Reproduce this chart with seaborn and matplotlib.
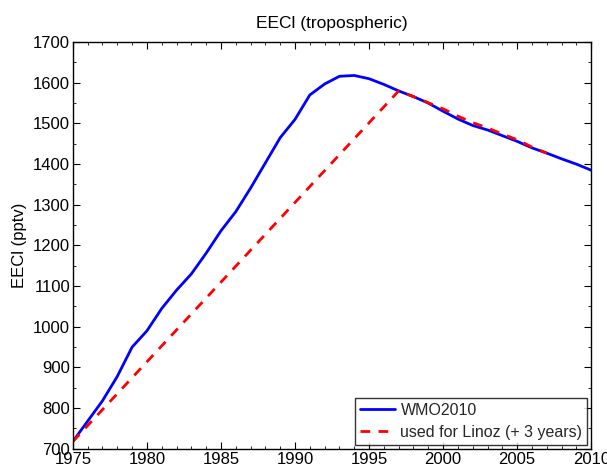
import numpy as np
import pandas as pd
import matplotlib
matplotlib.use("Agg")
import matplotlib.pyplot as plt
import seaborn as sns
from matplotlib.ticker import MultipleLocator

years_wmo = list(range(1975, 2011))
eecl_wmo = [718, 768, 818, 878, 950, 990, 1045, 1090, 1130, 1181,
            1236, 1283, 1341, 1403, 1465, 1510, 1570, 1597, 1616, 1618,
            1610, 1596, 1580, 1566, 1550, 1530, 1511, 1495, 1484, 1470,
            1456, 1440, 1427, 1413, 1400, 1385]

years_linoz = [1975, 1997, 1998, 1999, 2000, 2001, 2002, 2003, 2004, 2005, 2006, 2007]
eecl_linoz = [718, 1580, 1566, 1551, 1536, 1518, 1502, 1489, 1474, 1460, 1442, 1427]

label_wmo = "WMO2010"
label_linoz = "used for Linoz (+ 3 years)"

sns.set_theme(style="white")
plt.rcParams['font.family'] = ['Liberation Sans', 'DejaVu Sans']

fig = plt.figure(figsize=(6.07, 4.68), dpi=100)
ax = fig.add_axes([0.120, 0.041, 0.854, 0.869])

df_w = pd.DataFrame({"year": years_wmo, "eecl": eecl_wmo})
df_l = pd.DataFrame({"year": years_linoz, "eecl": eecl_linoz})
sns.lineplot(data=df_w, x="year", y="eecl", ax=ax, color="#0000ff", lw=2, label=label_wmo)
sns.lineplot(data=df_l, x="year", y="eecl", ax=ax, color="#ff0000", lw=2,
             linestyle=(0, (3.5, 3)), label=label_linoz)

ax.set_xlim(1975, 2010)
ax.set_ylim(700, 1700)
ax.xaxis.set_major_locator(MultipleLocator(5))
ax.xaxis.set_minor_locator(MultipleLocator(1))
ax.yaxis.set_major_locator(MultipleLocator(100))
ax.yaxis.set_minor_locator(MultipleLocator(50))
ax.tick_params(which="both", direction="in", top=True, right=True, bottom=True, left=True,
               colors="black", labelsize=12, pad=2)
ax.tick_params(which="major", length=5, width=0.8)
ax.tick_params(which="minor", length=2.5, width=0.6)
for s in ax.spines.values():
    s.set_color("black")
    s.set_linewidth(1.0)

ax.set_xlabel("")
ax.set_ylabel("EECl (pptv)", fontsize=12, color="black", labelpad=4)
ax.set_title("EECl (tropospheric)", fontsize=12.5, color="black", pad=10)

leg = ax.legend(loc="lower right", fontsize=11.5, frameon=True, fancybox=False,
                borderaxespad=0.25, handlelength=2.2, handletextpad=0.35,
                labelspacing=0.45, borderpad=0.3)
leg.get_frame().set_edgecolor("black")
leg.get_frame().set_linewidth(1.0)

fig.savefig("out.png", dpi=100)
